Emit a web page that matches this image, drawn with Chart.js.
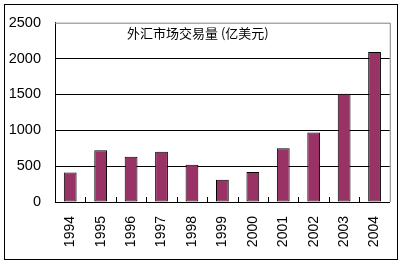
<!DOCTYPE html>
<html lang="zh">
<head>
  <meta charset="UTF-8" />
  <title>外汇市场交易量</title>
  <script src="https://cdn.jsdelivr.net/npm/chart.js"></script>
  <style>
    html, body {
      margin: 0;
      padding: 0;
      background: #fff;
      overflow: hidden;
    }
    canvas { display: block; }
  </style>
</head>
<body>
  <canvas id="fxChart" width="406" height="266"></canvas>
  <script>
    const years = ["1994", "1995", "1996", "1997", "1998", "1999", "2000", "2001", "2002", "2003", "2004"];
    const volume = [410, 720, 630, 700, 520, 310, 420, 750, 970, 1510, 2090];
    const yTicks = [0, 500, 1000, 1500, 2000, 2500];
    const chartTitle = "外汇市场交易量 (亿美元)";

    // frame, grey plot border, inner tick marks, title
    const decor = {
      id: 'decor',
      beforeDatasetsDraw(chart) {
        const { ctx, chartArea: a } = chart;
        ctx.save();
        ctx.strokeStyle = '#808080';
        ctx.lineWidth = 1;
        ctx.beginPath();
        ctx.moveTo(a.left, a.top + 0.5);
        ctx.lineTo(a.right + 0.5, a.top + 0.5);
        ctx.lineTo(a.right + 0.5, a.bottom);
        ctx.stroke();
        ctx.restore();
      },
      afterDraw(chart) {
        const { ctx, chartArea: a } = chart;
        const x = chart.scales.x;
        ctx.save();
        ctx.strokeStyle = '#000';
        ctx.lineWidth = 1;
        const half = (x.getPixelForValue(1) - x.getPixelForValue(0)) / 2;
        ctx.beginPath();
        for (let i = 1; i < years.length; i++) {
          const px = Math.round(x.getPixelForValue(i) - half) + 0.5;
          ctx.moveTo(px, a.bottom);
          ctx.lineTo(px, a.bottom - 5);
        }
        ctx.stroke();
        ctx.strokeRect(4.5, 4.5, 393, 255);
        ctx.fillStyle = '#000';
        ctx.font = '13px "Noto Sans CJK SC"';
        ctx.textBaseline = 'middle';
        ctx.textAlign = 'left';
        ctx.fillText(chartTitle, 127, 33);
        ctx.restore();
      }
    };

    new Chart(document.getElementById('fxChart'), {
      type: 'bar',
      data: {
        labels: years,
        datasets: [{
          data: volume,
          backgroundColor: '#993366',
          borderColor: '#000',
          borderWidth: 1,
          borderSkipped: false,
          categoryPercentage: 1,
          barPercentage: 0.42
        }]
      },
      options: {
        responsive: false,
        animation: false,
        layout: { padding: { top: 20, right: 14, left: 0, bottom: 0 } },
        plugins: { legend: { display: false }, tooltip: { enabled: false } },
        scales: {
          x: {
            grid: { display: false, drawTicks: false },
            border: { color: '#000', width: 1 },
            ticks: {
              color: '#000',
              font: { family: 'Liberation Sans', size: 14 },
              minRotation: 90,
              maxRotation: 90,
              padding: 14
            },
            afterFit(s) { s.height = 64; }
          },
          y: {
            min: 0,
            max: 2500,
            afterBuildTicks(s) { s.ticks = yTicks.map(v => ({ value: v })); },
            grid: {
              drawTicks: false,
              color: c => (c.tick && c.tick.value === 2500) ? 'rgba(0,0,0,0)' : '#000'
            },
            border: { color: '#000', width: 1 },
            ticks: {
              color: '#000',
              font: { family: 'Liberation Sans', size: 14.5 },
              padding: 14,
              callback: v => String(v)
            },
            afterFit(s) { s.width = 55; }
          }
        }
      },
      plugins: [decor]
    });
  </script>
</body>
</html>
